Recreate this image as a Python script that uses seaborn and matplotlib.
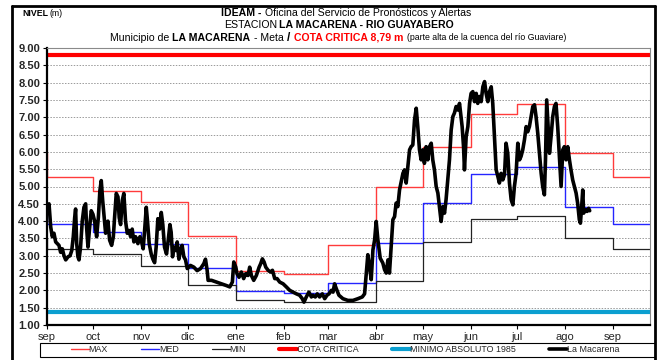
import numpy as np
import pandas as pd
import matplotlib
matplotlib.use("Agg")
import matplotlib.pyplot as plt
from matplotlib import font_manager
from matplotlib.lines import Line2D
from matplotlib.patches import Rectangle
import seaborn as sns

# ---------------- data ----------------
start = pd.Timestamp("2023-09-01")
end = pd.Timestamp("2024-09-25")

month_labels = ["sep", "oct", "nov", "dic", "ene", "feb", "mar",
                "abr", "may", "jun", "jul", "ago", "sep"]

# monthly reference levels (first value = previous August)
step_dates = ["2023-08-31", "2023-09-01", "2023-10-01", "2023-11-01", "2023-12-01",
              "2024-01-01", "2024-02-01", "2024-03-01", "2024-04-01", "2024-05-01",
              "2024-06-01", "2024-07-01", "2024-08-01", "2024-09-01"]
nivel_max = [5.97, 5.27, 4.87, 4.56, 3.57, 2.57, 2.47, 3.31, 4.99, 6.15, 7.10, 7.38, 5.97, 5.28]
nivel_med = [4.41, 3.92, 3.69, 3.35, 2.64, 1.98, 1.92, 2.21, 3.38, 4.53, 5.36, 5.57, 4.41, 3.93]
nivel_min = [3.50, 3.19, 3.04, 2.70, 2.15, 1.73, 1.66, 1.66, 2.26, 3.41, 4.06, 4.16, 3.50, 3.19]

cota_critica = 8.79
minimo_absoluto = 1.37

# observed level, La Macarena (days since 1 Sep, metres)
obs_day = [0, 1.3, 2.4, 3.4, 4.5, 5.6, 7.75, 8.8, 9.9, 11.0, 12.1, 13.6, 14.9, 16.0, 17.0,
           17.9, 18.5, 19.2, 20.0, 20.7, 21.7, 22.8, 23.9, 25.0, 25.6, 26.5, 27.6, 28.6,
           29.7, 30.8, 32.1, 33.2, 34.2, 35.1, 36.0, 36.8, 37.9, 39.4, 40.5, 41.8, 42.9,
           43.7, 44.8, 45.9, 46.7, 47.6, 48.7, 49.7, 50.8, 51.9, 53.0, 54.1, 55.1, 56.2,
           57.3, 58.8, 60.1, 61.2, 62.2, 63.3, 64.2, 65.0, 66.1, 67.4, 68.5, 69.6, 70.6,
           71.7, 72.8, 73.9, 74.9, 76.0, 77.3, 78.4, 79.5, 80.3, 81.2, 82.0, 83.3, 84.2,
           85.3, 86.3, 87.4, 88.5, 89.6, 90.7, 92.8, 95.0, 97.1, 99.3, 101.4, 102.5, 103.6,
           104.2, 106.4, 109.6, 112.8, 116.0, 118.2, 119.9, 120.8, 122.1, 122.9, 124.2,
           125.7, 127.2, 128.5, 130.0, 131.1, 132.2, 133.7, 135.4, 137.2, 138.2, 139.3,
           140.4, 141.5, 143.0, 144.5, 145.8, 147.3, 148.8, 150.5, 152.7, 154.8, 157.0,
           159.1, 161.3, 163.4, 165.1, 166.2, 167.7, 169.4, 171.0, 172.0, 173.5, 174.8,
           176.3, 178.1, 179.6, 181.1, 182.4, 183.9, 185.0, 186.0, 187.1, 188.8, 191.4,
           194.6, 197.9, 201.1, 203.9, 205.4, 206.5, 207.5, 208.6, 209.7, 210.8, 211.9,
           212.9, 214.0, 215.5, 217.2, 218.3, 219.4, 220.5, 221.5, 222.6, 223.7, 224.8,
           225.8, 226.9, 228.0, 229.1, 230.2, 231.2, 232.3, 233.4, 234.5, 235.5, 236.6,
           237.7, 238.8, 239.8, 240.9, 242.0, 243.1, 244.1, 245.2, 246.3, 247.4, 248.5,
           249.5, 250.6, 251.7, 252.8, 253.8, 254.9, 256.0, 257.1, 258.1, 259.2, 260.3,
           261.4, 262.5, 263.5, 264.6, 265.7, 266.8, 268.5, 269.4, 270.0, 271.1, 272.2,
           273.3, 274.3, 275.4, 276.5, 277.6, 278.6, 279.7, 280.8, 281.9, 283.0, 284.0,
           285.1, 286.2, 287.3, 288.3, 289.4, 290.5, 291.6, 292.6, 293.7, 294.8, 295.9,
           296.9, 298.0, 299.1, 300.2, 301.3, 302.3, 303.4, 304.5, 305.6, 306.6, 307.7,
           308.8, 309.9, 310.9, 312.0, 313.1, 314.2, 315.3, 316.3, 317.4, 318.5, 319.6,
           320.6, 321.7, 322.4, 323.2, 324.1, 325.0, 326.0, 327.1, 328.2, 329.2, 330.3,
           331.4, 332.5, 333.6, 334.6, 335.7, 336.8, 337.9, 338.9, 340.0, 341.1, 342.2,
           343.2, 344.3, 345.0, 345.8, 346.5, 347.1, 348.2, 349.3, 350.3, 351.0]
obs_level = [4.3, 4.5, 3.83, 3.55, 3.65, 3.4, 3.3, 3.1, 3.2, 3.0, 2.88, 2.97, 3.0, 3.15, 3.55,
             4.1, 4.35, 3.35, 2.97, 2.88, 3.25, 4.0, 4.4, 4.5, 3.83, 3.25, 3.83, 4.3,
             4.2, 4.0, 3.55, 4.1, 4.88, 5.17, 4.6, 4.2, 3.65, 4.0, 3.45, 3.3, 3.55,
             4.1, 4.8, 4.7, 4.1, 3.9, 4.6, 4.8, 4.0, 3.65, 3.73, 3.55, 3.77, 3.4,
             3.55, 3.35, 3.55, 3.4, 3.2, 3.83, 4.4, 4.0, 3.35, 3.05, 2.9, 2.8, 3.25,
             4.07, 3.77, 4.25, 3.9, 3.25, 3.05, 3.45, 3.9, 3.68, 2.97, 3.25, 3.15, 3.4,
             2.9, 3.15, 3.3, 2.97, 2.88, 2.63, 2.72, 2.67, 2.57, 2.63, 2.77, 2.9, 2.57,
             2.29, 2.29, 2.24, 2.19, 2.14, 2.1, 2.24, 2.82, 2.67, 2.48, 2.38,
             2.53, 2.34, 2.48, 2.43, 2.67, 2.43, 2.29, 2.43, 2.67, 2.77, 2.91,
             2.82, 2.67, 2.58, 2.53, 2.58, 2.34, 2.34, 2.24, 2.19, 2.1, 2.0,
             1.95, 1.9, 1.86, 1.76, 1.66, 1.81, 1.95, 1.81, 1.86, 1.81, 1.9,
             1.81, 1.9, 1.76, 1.86, 1.9, 2.0, 1.95, 2.19, 2.05, 1.86, 1.76,
             1.71, 1.71, 1.76, 1.81, 1.9, 2.5, 3.03, 2.69, 2.31, 3.17, 3.46,
             3.99, 3.46, 2.93, 2.79, 2.6, 2.5, 2.88, 2.5, 3.27, 4.04, 4.13,
             4.52, 4.42, 4.9, 5.14, 5.38, 5.48, 5.1, 5.58, 6.06, 6.15, 6.2,
             6.92, 7.26, 6.73, 6.06, 5.77, 6.06, 5.67, 6.15, 5.77, 6.15, 6.25,
             5.77, 5.48, 5.0, 4.81, 4.42, 3.99, 4.42, 4.23, 4.62, 5.19, 5.77,
             6.63, 7.02, 7.12, 7.31, 7.21, 7.4, 6.73, 6.15, 5.48, 6.44, 6.73,
             7.4, 7.69, 7.74, 7.45, 7.69, 7.4, 7.6, 7.45, 7.88, 8.03, 7.69,
             7.45, 7.74, 7.88, 7.4, 6.44, 5.48, 5.29, 5.1, 5.38, 5.19, 5.34,
             6.25, 5.96, 5.1, 4.62, 4.47, 5.0, 5.38, 6.25, 5.77, 5.87, 6.06,
             6.35, 6.73, 6.58, 6.73, 7.02, 7.31, 7.36, 7.02, 6.54, 5.96, 5.38,
             5.0, 4.76, 5.77, 7.5, 6.73, 5.96, 6.44, 7.02, 7.31, 7.4, 6.73,
             5.87, 5.0, 6.06, 6.15, 5.77, 6.15, 5.77, 5.48, 5.19, 5.0, 4.81,
             4.52, 4.04, 3.94, 4.42, 4.9, 4.23, 4.33, 4.28, 4.37, 4.3]

y_ticks = np.arange(1.0, 9.01, 0.5)

# ---------------- style ----------------
sns.set_theme(style="white")
available = {f.name for f in font_manager.fontManager.ttflist}
NARROW = "Liberation Sans Narrow" if "Liberation Sans Narrow" in available else "Liberation Sans"
plt.rcParams["font.family"] = ["Liberation Sans", "DejaVu Sans"]

W, H = 671, 360
fig = plt.figure(figsize=(W / 100, H / 100), dpi=100, facecolor="white")
ax = fig.add_axes([47 / W, 1 - 325 / H, (650 - 47) / W, (325 - 48) / H])

# ---------------- frames ----------------
sd = pd.to_datetime(step_dates + [str(end.date())])
steps = pd.DataFrame({
    "fecha": sd,
    "MAX": nivel_max + [nivel_max[-1]],
    "MED": nivel_med + [nivel_med[-1]],
    "MIN": nivel_min + [nivel_min[-1]],
})
obs = pd.DataFrame({
    "fecha": start + pd.to_timedelta(obs_day, unit="D"),
    "nivel": obs_level,
})
flat = pd.DataFrame({
    "fecha": [start - pd.Timedelta(days=2), end + pd.Timedelta(days=2)],
    "cota": [cota_critica] * 2,
    "minimo": [minimo_absoluto] * 2,
})

# ---------------- lines ----------------
sns.lineplot(data=steps, x="fecha", y="MAX", ax=ax, color="#ff3b3b", lw=1.0,
             drawstyle="steps-post", label="MAX", sort=False, estimator=None)
sns.lineplot(data=steps, x="fecha", y="MED", ax=ax, color="#2424ff", lw=1.0,
             drawstyle="steps-post", label="MED", sort=False, estimator=None)
sns.lineplot(data=steps, x="fecha", y="MIN", ax=ax, color="#222222", lw=0.9,
             drawstyle="steps-post", label="MIN", sort=False, estimator=None)
sns.lineplot(data=flat, x="fecha", y="cota", ax=ax, color="#ff0000", lw=3.0,
             label="COTA CRITICA", sort=False, estimator=None)
sns.lineplot(data=flat, x="fecha", y="minimo", ax=ax, color="#0b9fd0", lw=3.0,
             label="MINIMO ABSOLUTO 1985", sort=False, estimator=None)
sns.lineplot(data=obs, x="fecha", y="nivel", ax=ax, color="black", lw=2.6,
             label="La Macarena", sort=False, estimator=None)

handles, labels = ax.get_legend_handles_labels()
ax.get_legend().remove()

# ---------------- axes ----------------
ax.set_xlim(start, end)
ax.set_ylim(1.0, 9.0)
month_starts = pd.date_range(start, periods=len(month_labels), freq="MS")
ax.set_xticks(month_starts)
ax.set_xticklabels(month_labels, fontsize=8)
ax.set_yticks(y_ticks)
ax.set_yticklabels([f"{v:.2f}" for v in y_ticks], fontsize=8, fontweight="bold")
ax.set_xlabel("")
ax.set_ylabel("")
ax.tick_params(axis="both", which="both", direction="out", length=3, width=0.8,
               color="black", pad=2, bottom=True, left=True)
for v in y_ticks[1:-1]:
    ax.axhline(v, color="#9a9a9a", lw=0.7, ls=(0, (1.5, 1.5)), zorder=0)
for side in ("left", "bottom"):
    ax.spines[side].set_color("black")
    ax.spines[side].set_linewidth(1.6)
for side in ("top", "right"):
    ax.spines[side].set_color("#8a8a8a")
    ax.spines[side].set_linewidth(0.8)

# ---------------- header ----------------
renderer = fig.canvas.get_renderer()


def text_runs(x_px, y_px, runs, gap=3.0, align="center"):
    objs = []
    for s, kw in runs:
        t = fig.text(0, 1 - y_px / H, s, va="center", ha="left", **kw)
        objs.append(t)
    widths = [t.get_window_extent(renderer).width for t in objs]
    total = sum(widths) + gap * (len(objs) - 1)
    x = x_px - total / 2 if align == "center" else x_px
    for t, w in zip(objs, widths):
        t.set_x(x / W)
        x += w + gap


hdr = dict(family=[NARROW, "DejaVu Sans"], fontsize=7.6, color="black")
hdr_b = dict(hdr, fontweight="bold")
small = dict(hdr, fontsize=6.3)

text_runs(22, 14, [("NIVEL", dict(small, fontweight="bold")), ("(m)", small)],
          gap=2, align="left")

text_runs(346, 13, [("IDEAM -", hdr_b),
                    ("Oficina del Servicio de Pronósticos y Alertas", hdr)])
text_runs(339, 25, [("ESTACION", hdr),
                    ("LA MACARENA - RIO GUAYABERO", hdr_b)], gap=2)
text_runs(338, 38, [("Municipio de", hdr),
                    ("LA MACARENA", hdr_b),
                    ("- Meta", hdr),
                    ("/", dict(hdr_b, fontsize=8.6)),
                    ("COTA CRITICA 8,79 m", dict(hdr_b, color="#ff0000")),
                    ("(parte alta de la cuenca del río Guaviare)", small)], gap=3.5)

# ---------------- legend ----------------
fig.add_artist(Rectangle((40 / W, 1 - 357 / H), (655 - 40) / W, 14 / H,
                         transform=fig.transFigure, fill=False, edgecolor="black", lw=0.8))
fig.legend(handles, labels, loc="center", ncol=6, mode="expand",
           bbox_to_anchor=(70 / W, 1 - 357 / H, (620 - 70) / W, 14 / H),
           frameon=False, handlelength=2.0, handletextpad=0.0,
           columnspacing=1.0, borderaxespad=0, borderpad=0.1,
           prop={"family": [NARROW, "DejaVu Sans"], "size": 6.4})

# ---------------- outer frame ----------------
for (x0, y0, x1, y1) in [(12, 6, 12, 360), (12, 6, 655, 6), (655, 6, 655, 360)]:
    fig.add_artist(Line2D([x0 / W, x1 / W], [1 - y0 / H, 1 - y1 / H],
                          transform=fig.transFigure, color="black", lw=2.0))

fig.savefig("out.png", dpi=100, facecolor="white")
